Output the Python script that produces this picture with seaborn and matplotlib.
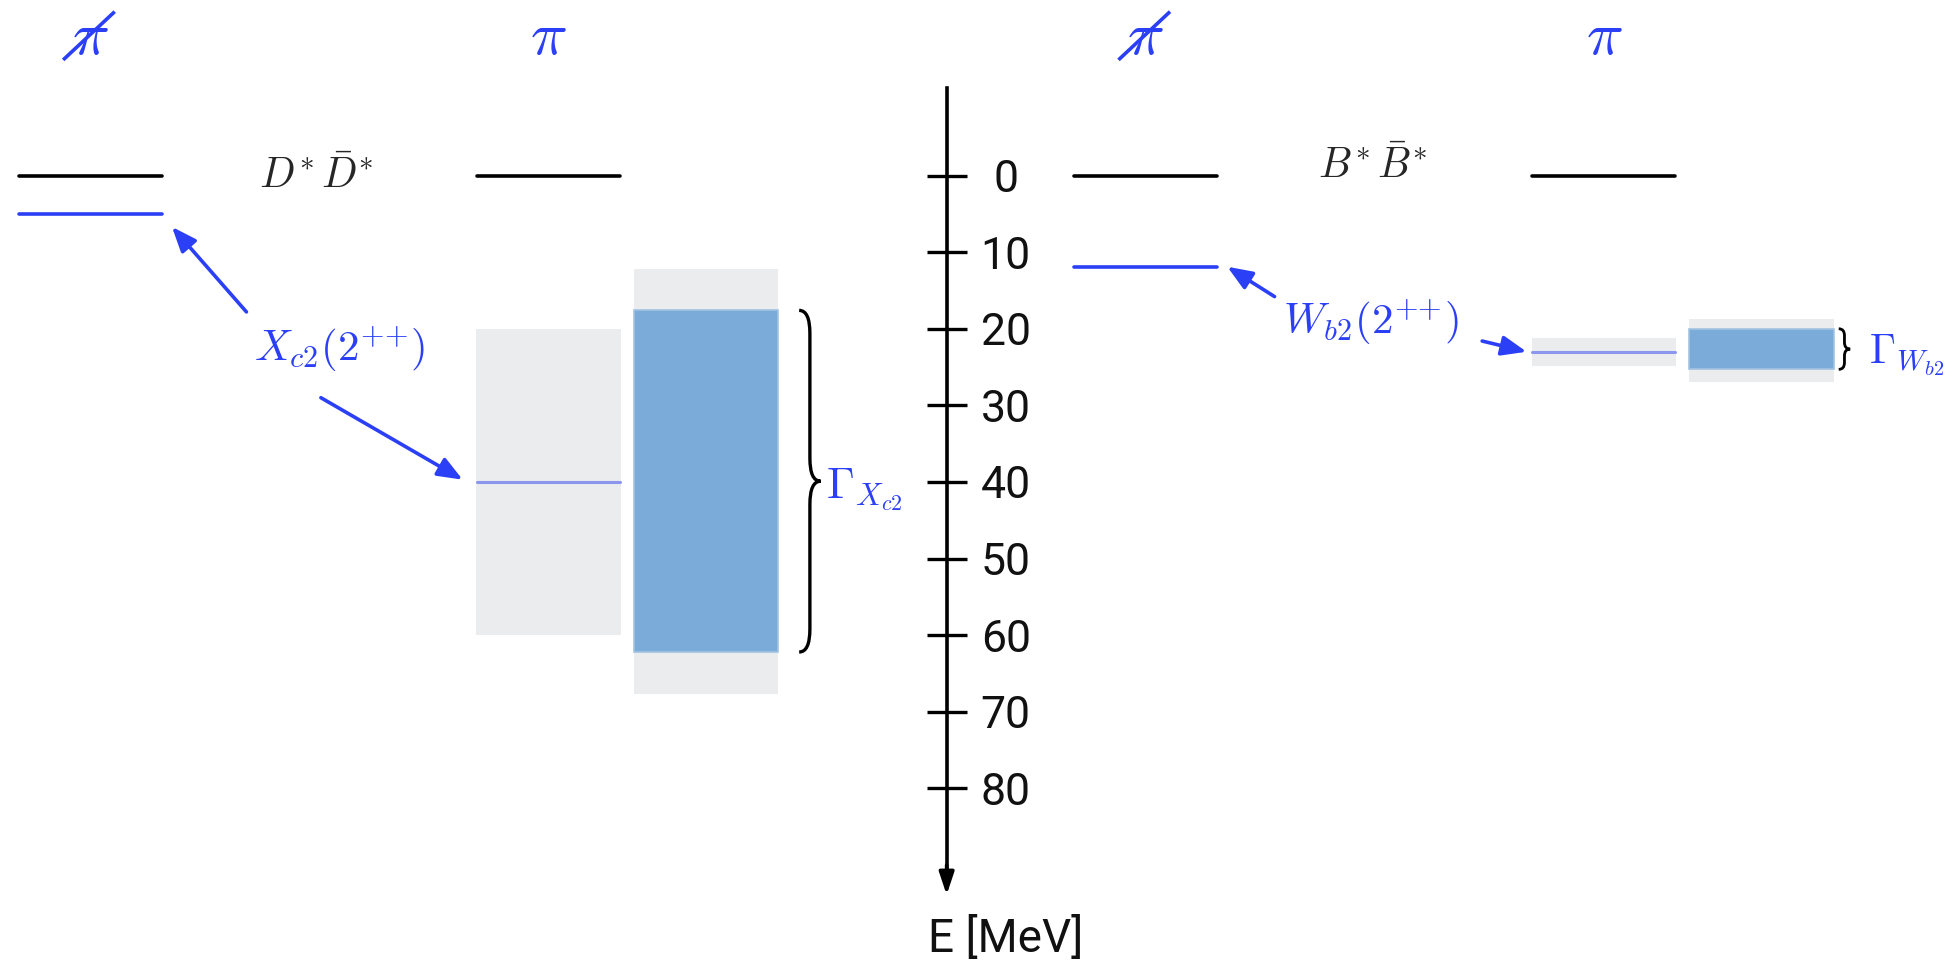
import pandas as pd
import seaborn as sns
import matplotlib.pyplot as plt
from matplotlib.path import Path
from matplotlib.patches import PathPatch

# Binding energies below threshold in MeV (axis points downwards)
panel_x = [0.0, 7.37]          # centre of the "no pion" column in each panel
col_dx = [0.0, 3.2, 4.3]        # no pion, pion, width column
threshold = [0.0, 0.0]
state_nopi = [5.0, 11.9]
state_pi = [40.0, 23.0]
band_pi_lo = [20.0, 21.2]
band_pi_hi = [60.0, 24.8]
width_lo = [17.6, 20.0]
width_hi = [62.2, 25.3]
width_err_lo = [12.2, 18.7]
width_err_hi = [67.7, 26.9]
threshold_labels = [r"$D^{\!*}\bar{D}^{\!*}$", r"$B^{\!*}\bar{B}^{\!*}$"]
state_labels = [r"$X_{c2}(2^{{+}{+}})$", r"$W_{b2}(2^{{+}{+}})$"]
gamma_labels = [r"$\Gamma_{X_{c2}}$", r"$\Gamma_{W_{b2}}$"]
energy_ticks = [0, 10, 20, 30, 40, 50, 60, 70, 80]

BLUE = "#2B3FF6"
LIGHT = "#8B97EE"
BOX = "#7AABD9"
GREY = "#EBECEE"
AXIS_X = 5.98


def brace(ax, x, lo, hi, w, lw=2.4):
    # right-opening curly brace from energy lo to hi
    m = (lo + hi) / 2
    q = min(3.0, (hi - lo) / 6)
    h = w / 2
    verts = [(x, lo), (x + h, lo), (x + h, lo + q),
             (x + h, m - q), (x + h, m), (x + w, m),
             (x + h, m), (x + h, m + q),
             (x + h, hi - q), (x + h, hi), (x, hi)]
    codes = [Path.MOVETO, Path.CURVE3, Path.CURVE3,
             Path.LINETO, Path.CURVE3, Path.CURVE3,
             Path.CURVE3, Path.CURVE3,
             Path.LINETO, Path.CURVE3, Path.CURVE3]
    ax.add_patch(PathPatch(Path(verts, codes), fill=False, lw=lw, color="black"))


def arrow(ax, tail, tip, color=BLUE):
    ax.annotate("", xy=tip, xytext=tail,
                arrowprops=dict(arrowstyle="-|>,head_length=0.75,head_width=0.3",
                                mutation_scale=20, lw=2.6, color=color,
                                shrinkA=0, shrinkB=0))


sns.set_theme(style="white")
plt.rcParams["mathtext.fontset"] = "cm"
plt.rcParams["font.family"] = ["Roboto", "DejaVu Sans"]

fig = plt.figure(figsize=(19.53, 9.68), dpi=100)
ax = fig.add_axes([0, 0, 1, 1])

# level segments
rows = []
for p in range(2):
    for kind, e, c in [("thr", threshold[p], 0), ("thr", threshold[p], 1),
                       ("nopi", state_nopi[p], 0), ("pi", state_pi[p], 1)]:
        xc = panel_x[p] + col_dx[c]
        for dx in (-0.5, 0.5):
            rows.append({"id": f"{kind}{p}{c}", "kind": kind, "x": xc + dx, "E": e})
levels = pd.DataFrame(rows)

# uncertainty boxes
for p in range(2):
    x1 = panel_x[p] + col_dx[1]
    x2 = panel_x[p] + col_dx[2]
    ax.bar(x1, band_pi_hi[p] - band_pi_lo[p], bottom=band_pi_lo[p], width=1.01,
           color=GREY, lw=0, zorder=1)
    ax.bar(x2, width_err_hi[p] - width_err_lo[p], bottom=width_err_lo[p], width=1.01,
           color=GREY, lw=0, zorder=1)
    ax.bar(x2, width_hi[p] - width_lo[p], bottom=width_lo[p], width=1.01,
           color=BOX, edgecolor="#A2C3E3", lw=1.2, zorder=2)

styles = {"thr": ("black", 2.6), "nopi": (BLUE, 2.6), "pi": (LIGHT, 2.2)}
for kind, (col, lw) in styles.items():
    sns.lineplot(data=levels[levels["kind"] == kind], x="x", y="E", units="id",
                 estimator=None, color=col, lw=lw, ax=ax, zorder=3)

# labels, arrows, braces
tails = [[(1.09, 17.8), (1.61, 29.0)], [(8.27, 15.8), (9.72, 21.6)]]
tips = [[(0.57, 6.7), (2.60, 39.7)], [(7.94, 11.9), (10.03, 23.0)]]
state_pos = [(1.74, 24.3), (8.94, 20.8)]
thr_pos = [(1.58, 1.6), (8.95, 0.3)]
for p in range(2):
    x0 = panel_x[p]
    # pion / no pion headers
    ax.text(x0 + col_dx[1], -15.7, r"$\pi$", color=BLUE, fontsize=44,
            ha="center", va="baseline")
    ax.text(x0, -15.7, r"$\pi$", color=BLUE, fontsize=44, ha="center", va="baseline")
    ax.plot([x0 - 0.19, x0 + 0.17], [-15.1, -21.4], color=BLUE, lw=2.6,
            solid_capstyle="butt")
    ax.text(*thr_pos[p], threshold_labels[p], fontsize=30, ha="center", va="baseline")
    ax.text(*state_pos[p], state_labels[p], color=BLUE, fontsize=31,
            ha="center", va="baseline")
    for t, h in zip(tails[p], tips[p]):
        arrow(ax, t, h)
    xr = x0 + col_dx[2] + 0.505

    if p == 0:
        brace(ax, xr + 0.145, width_lo[p], width_hi[p], 0.15)
        ax.text(xr + 0.33, 42.1, gamma_labels[p], color=BLUE, fontsize=32, va="baseline")
    else:
        brace(ax, xr + 0.035, width_lo[p], width_hi[p], 0.08, lw=2.0)
        ax.text(xr + 0.245, 24.6, gamma_labels[p], color=BLUE, fontsize=30, va="baseline")

# energy axis
ax.set_xlim(-0.631, 13.008)
ax.set_ylim(103.45, -22.92)
ax.set_xticks([])
ax.set_yticks(energy_ticks)
for s in ["left", "top", "bottom"]:
    ax.spines[s].set_visible(False)
ax.yaxis.tick_right()
ax.spines["right"].set_position(("data", AXIS_X))
ax.spines["right"].set_bounds(-11.4, 92.0)
ax.spines["right"].set_linewidth(2.6)
ax.spines["right"].set_color("black")
ax.tick_params(axis="y", direction="inout", length=29, width=2.4, pad=28,
               labelsize=32, colors="black")
plt.setp(ax.get_yticklabels(), ha="center", color="#111111")
ax.annotate("", xy=(AXIS_X, 93.9), xytext=(AXIS_X, 90),
            arrowprops=dict(arrowstyle="-|>,head_length=0.75,head_width=0.25",
                            mutation_scale=18, lw=2.6, color="black",
                            shrinkA=0, shrinkB=0))
ax.text(6.39, 99.6, "E [MeV]", fontsize=33, color="#111111",
        ha="center", va="center")
ax.set_xlabel("")
ax.set_ylabel("")

fig.savefig("out.png", dpi=100)
